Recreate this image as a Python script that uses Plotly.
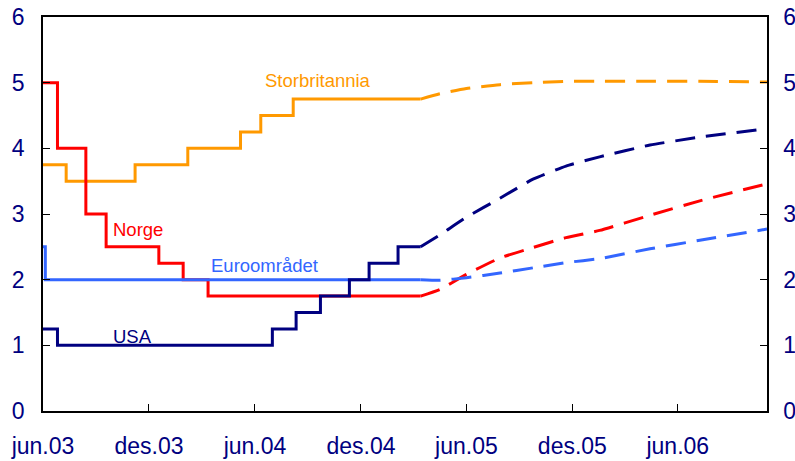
import plotly.graph_objects as go

# ---- Data ----
# Historical policy rates (step series)
norge_dates = ["2003-06-01", "2003-06-26", "2003-08-14", "2003-09-18", "2003-12-18",
               "2004-01-29", "2004-03-12", "2005-03-14"]
norge_vals = [5.0, 4.0, 3.0, 2.5, 2.25, 2.0, 1.75, 1.75]

euro_dates = ["2003-06-01", "2003-06-05", "2005-03-14"]
euro_vals = [2.5, 2.0, 2.0]

usa_dates = ["2003-06-01", "2003-06-26", "2004-07-01", "2004-08-11", "2004-09-22",
             "2004-11-11", "2004-12-15", "2005-02-03", "2005-03-14"]
usa_vals = [1.25, 1.0, 1.25, 1.5, 1.75, 2.0, 2.25, 2.5, 2.5]

uk_dates = ["2003-06-01", "2003-07-11", "2003-11-07", "2004-02-06", "2004-05-07",
            "2004-06-11", "2004-08-06", "2005-03-14"]
uk_vals = [3.75, 3.5, 3.75, 4.0, 4.25, 4.5, 4.75, 4.75]

# Forward (market-implied) rates
fwd_dates = ["2005-03-14", "2005-04-16", "2005-06-01", "2005-07-29", "2005-09-24",
             "2005-11-20", "2006-01-17", "2006-04-14", "2006-07-09", "2006-11-02"]
norge_fwd = [1.75, 1.85, 2.08, 2.33, 2.49, 2.64, 2.75, 2.98, 3.20, 3.46]
euro_fwd = [2.00, 1.99, 2.03, 2.10, 2.18, 2.26, 2.32, 2.47, 2.60, 2.77]
usa_fwd = [2.50, 2.68, 2.95, 3.24, 3.53, 3.73, 3.87, 4.05, 4.17, 4.30]
uk_fwd = [4.75, 4.83, 4.91, 4.97, 5.00, 5.02, 5.02, 5.02, 5.02, 5.01]

tick_dates = ["2003-06-01", "2003-12-01", "2004-06-01", "2004-12-01",
              "2005-06-01", "2005-12-01", "2006-06-01"]
tick_labels = ["jun.03", "des.03", "jun.04", "des.04", "jun.05", "des.05", "jun.06"]
y_ticks = [0, 1, 2, 3, 4, 5, 6]

series = [
    ("Storbritannia", uk_dates, uk_vals, uk_fwd, "#FF9900", "2004-09-18", 5.03),
    ("Norge", norge_dates, norge_vals, norge_fwd, "#FF0000", "2003-11-12", 2.76),
    ("Euroområdet", euro_dates, euro_vals, euro_fwd, "#3366FF", "2004-06-18", 2.22),
    ("USA", usa_dates, usa_vals, usa_fwd, "#000080", "2003-11-02", 1.14),
]

NAVY = "#000080"
FONT = "Arial, Liberation Sans, sans-serif"

fig = go.Figure()
for name, d, v, fwd, col, lx, ly in series:
    fig.add_trace(go.Scatter(x=d, y=v, mode="lines", line=dict(color=col, width=3, shape="hv"),
                             name=name, showlegend=False, hoverinfo="skip"))
    fig.add_trace(go.Scatter(x=fwd_dates, y=fwd, mode="lines",
                             line=dict(color=col, width=3, dash="20px,11px", shape="spline", smoothing=0.5),
                             name=name + " fwd", showlegend=False, hoverinfo="skip"))
    fig.add_annotation(x=lx, y=ly, text=name, showarrow=False,
                       font=dict(family=FONT, size=18.5, color=col), xanchor="center", yanchor="middle")

# invisible trace for right axis
fig.add_trace(go.Scatter(x=[fwd_dates[0]], y=[0], yaxis="y2", mode="markers",
                         marker=dict(opacity=0), showlegend=False, hoverinfo="skip"))

axis_common = dict(showline=True, linecolor="black", linewidth=1.5, ticks="inside", ticklen=7,
                   tickcolor="black", showgrid=False, zeroline=False, automargin=False,
                   tickfont=dict(family=FONT, size=23, color=NAVY))

fig.update_layout(
    width=795, height=461,
    margin=dict(l=43, r=28, t=17, b=50, autoexpand=False),
    plot_bgcolor="white", paper_bgcolor="white",
    xaxis=dict(range=["2003-06-01", "2006-11-02"], tickvals=tick_dates, ticktext=tick_labels,
               mirror=True, ticklabelstandoff=14, **axis_common),
    yaxis=dict(range=[0, 6], tickvals=y_ticks, ticklabelstandoff=12, **axis_common),
    yaxis2=dict(range=[0, 6], tickvals=y_ticks, overlaying="y", side="right",
                ticklabelstandoff=10, **axis_common),
)

fig.write_html("out.html", config={"displayModeBar": False},
               post_script="document.body.style.margin='0';document.body.style.overflow='hidden';")
